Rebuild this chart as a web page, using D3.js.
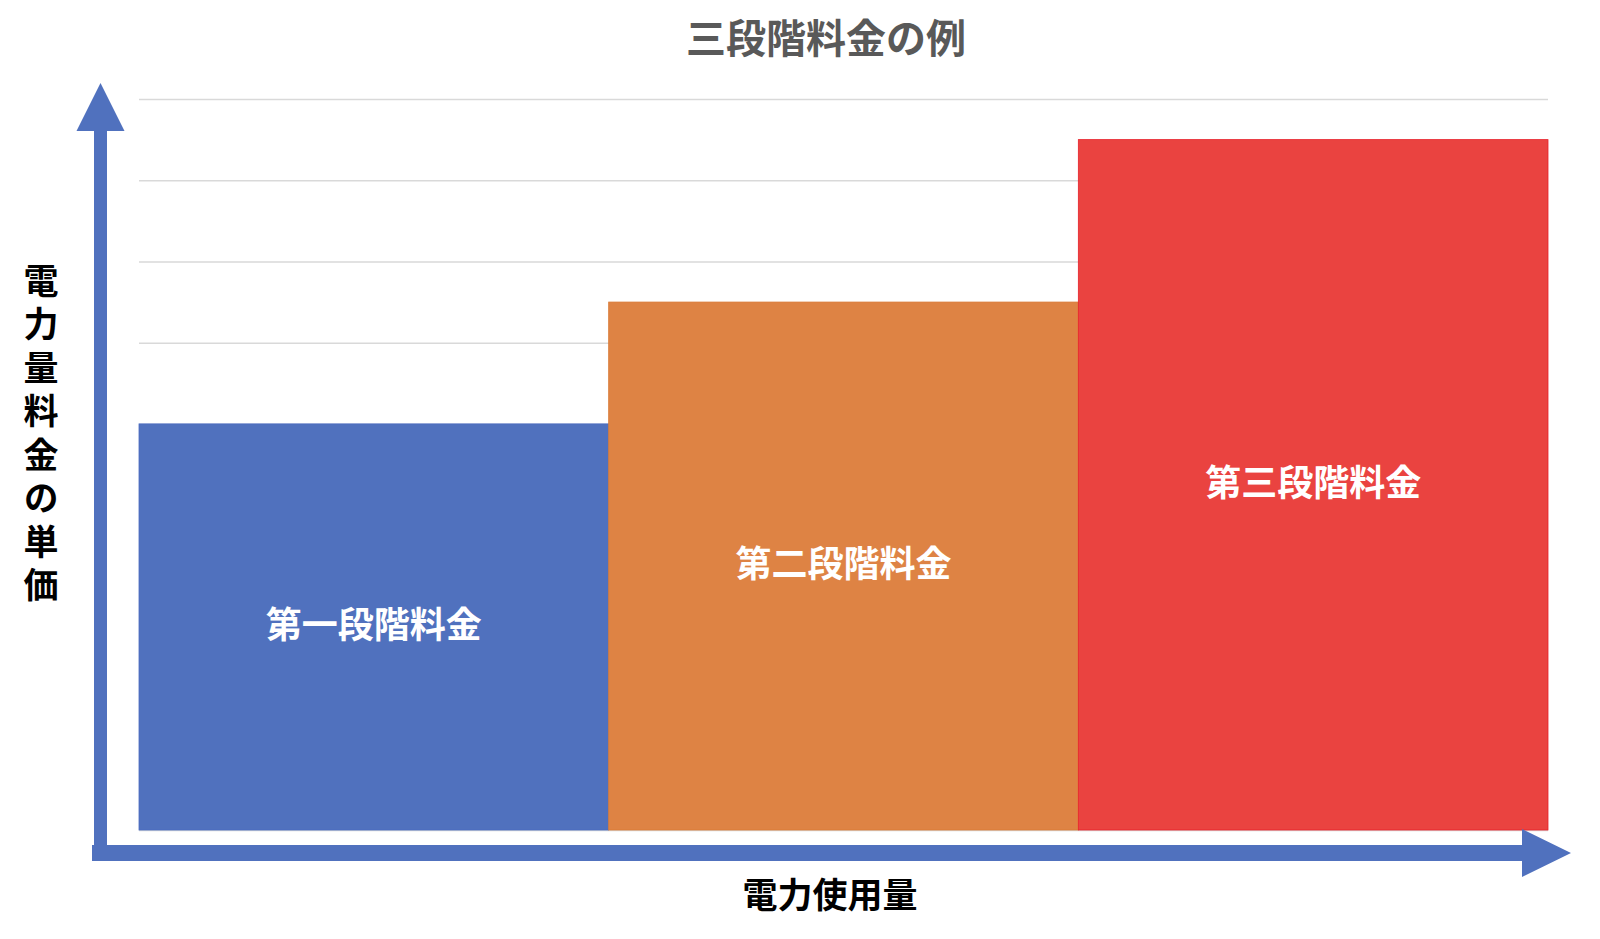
<!DOCTYPE html>
<html>
<head>
<meta charset="utf-8">
<script src="https://cdn.jsdelivr.net/npm/d3@7"></script>
<style>
  html, body { margin: 0; padding: 0; background: #fff; }
  svg text { font-family: "Noto Sans CJK JP", "Noto Sans", sans-serif; font-weight: 700; }
</style>
</head>
<body>
<svg id="chart"></svg>
<script>
const categories = ['第一段階料金', '第二段階料金', '第三段階料金'];
const values = [5, 6.5, 8.5];
const yTicks = [0, 1, 2, 3, 4, 5, 6, 7, 8, 9];
const barColors = ['#5071BE', '#DE8344', '#EA4340'];
const barStrokes = ['#4A6CC0', '#D97A35', '#E8202A'];

const width = 1600;
const height = 939;
const margin = { top: 99, right: 52, bottom: 109, left: 139 };
const axisColor = '#5071BE';

const svg = d3.select('#chart')
  .attr('width', width)
  .attr('height', height);

const x = d3.scaleBand()
  .domain(categories)
  .range([margin.left, width - margin.right])
  .padding(0);

const y = d3.scaleLinear()
  .domain([0, d3.max(yTicks)])
  .range([height - margin.bottom, margin.top]);

// gridlines
const grid = svg.append('g')
  .attr('transform', `translate(${margin.left},0)`)
  .call(d3.axisLeft(y)
    .tickValues(yTicks)
    .tickSize(-(width - margin.left - margin.right))
    .tickFormat(''));
grid.select('.domain').remove();
grid.selectAll('line').attr('stroke', '#d9d9d9').attr('stroke-width', 1.5);

// bars
svg.append('g')
  .selectAll('rect')
  .data(values)
  .enter()
  .append('rect')
  .attr('x', (d, i) => x(categories[i]))
  .attr('y', d => y(d))
  .attr('width', x.bandwidth())
  .attr('height', d => y(0) - y(d))
  .attr('fill', (d, i) => barColors[i])
  .attr('stroke', (d, i) => barStrokes[i])
  .attr('stroke-width', 0.8);

// bar labels
svg.append('g')
  .selectAll('text')
  .data(values)
  .enter()
  .append('text')
  .attr('x', (d, i) => x(categories[i]) + x.bandwidth() / 2)
  .attr('y', d => (y(d) + y(0)) / 2 - 5)
  .attr('text-anchor', 'middle')
  .attr('dominant-baseline', 'central')
  .attr('fill', '#fff')
  .style('font-size', '36px')
  .text((d, i) => categories[i]);

// axis arrows
const vx = 100.5, vHalf = 6.5;
const hy = 853, hHalf = 8;
const vTop = 83, vHeadBase = 131, vHeadHalf = 24;
const hRight = 1571, hHeadBase = 1522, hHeadHalf = 24;
const hLeft = 92;

svg.append('path')
  .attr('d', [
    ['M', vx - vHalf, hy + hHalf],
    ['L', vx - vHalf, vHeadBase],
    ['L', vx - vHeadHalf, vHeadBase],
    ['L', vx, vTop],
    ['L', vx + vHeadHalf, vHeadBase],
    ['L', vx + vHalf, vHeadBase],
    ['L', vx + vHalf, hy + hHalf],
    ['Z']
  ].map(p => p.join(' ')).join(' '))
  .attr('fill', axisColor);

svg.append('path')
  .attr('d', [
    ['M', hLeft, hy - hHalf],
    ['L', hHeadBase, hy - hHalf],
    ['L', hHeadBase, hy - hHeadHalf],
    ['L', hRight, hy],
    ['L', hHeadBase, hy + hHeadHalf],
    ['L', hHeadBase, hy + hHalf],
    ['L', hLeft, hy + hHalf],
    ['Z']
  ].map(p => p.join(' ')).join(' '))
  .attr('fill', axisColor);

// title
svg.append('text')
  .attr('x', 826)
  .attr('y', 36)
  .attr('text-anchor', 'middle')
  .attr('dominant-baseline', 'central')
  .attr('fill', '#595959')
  .style('font-size', '40px')
  .text('三段階料金の例');

// x axis label
svg.append('text')
  .attr('x', 830)
  .attr('y', 892)
  .attr('text-anchor', 'middle')
  .attr('dominant-baseline', 'central')
  .attr('fill', '#000')
  .style('font-size', '35px')
  .text('電力使用量');

// y axis label, vertical writing
svg.append('text')
  .attr('x', 41)
  .attr('y', 263)
  .attr('text-anchor', 'start')
  .attr('fill', '#000')
  .style('font-size', '35px')
  .style('writing-mode', 'vertical-rl')
  .style('text-orientation', 'upright')
  .style('letter-spacing', '8.5px')
  .text('電力量料金の単価');
</script>
</body>
</html>
